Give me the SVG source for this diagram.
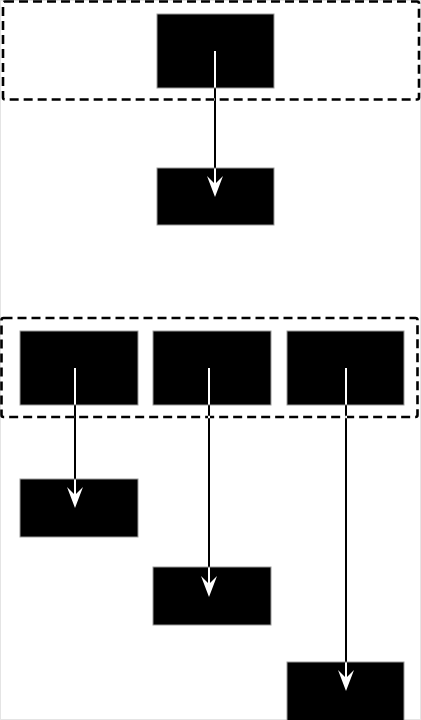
<svg xmlns="http://www.w3.org/2000/svg" width="421" height="720" viewBox="0 0 421 720">
  <style>
    .box { fill: #000; stroke: #9a9a9a; stroke-width: 1; }
    .group { fill: none; stroke: #000; stroke-width: 2.6; stroke-dasharray: 9 5; }
    .conn { fill: none; stroke: #fff; stroke-width: 2; }
    .head { fill: #fff; stroke: none; }
    #connectors { mix-blend-mode: difference; }
  </style>
  <defs>
    <path id="arrowhead" d="M -8,-21 L 0,0 L 8,-21 L 0,-13 Z"/>
  </defs>
  <rect x="0" y="0" width="421" height="720" fill="#fff"/>
  <rect x="0.5" y="0.5" width="420" height="719" fill="none" stroke="#e4e4e4" stroke-width="1"/>

  <g id="group-top">
    <rect class="group" x="3" y="1.5" width="416" height="98" rx="2"/>
  </g>
  <g id="group-middle">
    <rect class="group" x="1.5" y="318" width="416" height="99" rx="2"/>
  </g>

  <g id="node-top">
    <rect class="box" x="157" y="14" width="117" height="74"/>
  </g>
  <g id="node-top-child">
    <rect class="box" x="157" y="168" width="117" height="57"/>
  </g>
  <g id="node-a">
    <rect class="box" x="20" y="331" width="118" height="74"/>
  </g>
  <g id="node-b">
    <rect class="box" x="153" y="331" width="118" height="74"/>
  </g>
  <g id="node-c">
    <rect class="box" x="287" y="331" width="117" height="74"/>
  </g>
  <g id="node-a-child">
    <rect class="box" x="20" y="479" width="118" height="58"/>
  </g>
  <g id="node-b-child">
    <rect class="box" x="153" y="567" width="118" height="58"/>
  </g>
  <g id="node-c-child">
    <rect class="box" x="287" y="662" width="117" height="70"/>
  </g>

  <g id="connectors">
    <line class="conn" x1="215" y1="51" x2="215" y2="190"/>
    <use href="#arrowhead" class="head" transform="translate(215,197)"/>
    <line class="conn" x1="75" y1="368" x2="75" y2="501"/>
    <use href="#arrowhead" class="head" transform="translate(75,508)"/>
    <line class="conn" x1="209" y1="368" x2="209" y2="590"/>
    <use href="#arrowhead" class="head" transform="translate(209,597)"/>
    <line class="conn" x1="346" y1="368" x2="346" y2="684"/>
    <use href="#arrowhead" class="head" transform="translate(346,691)"/>
  </g>
</svg>
